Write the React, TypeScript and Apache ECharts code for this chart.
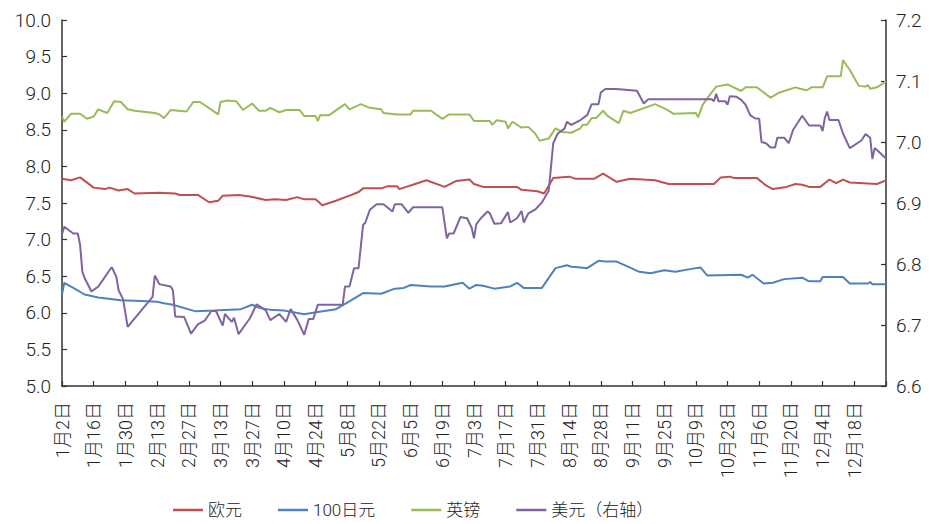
import React, { useEffect, useRef } from "react";
import * as echarts from "echarts";

// Day index counted from 2019-01-02 (0) to 2020-01-01 (364)
const startDate = [2019, 0, 2];
const dayCount = 365;

const seriesNames = ["欧元", "100日元", "英镑", "美元（右轴）"];
const seriesColors = ["#C0504D", "#4F81BD", "#9BBB59", "#8064A2"];

// [dayIndex, value]
const eur: [number, number][] = [
  [0, 7.83], [4, 7.81], [8, 7.85], [14, 7.71], [19, 7.69], [21, 7.71], [25, 7.67], [29, 7.69],
  [32, 7.63], [43, 7.64], [50, 7.63], [52, 7.61], [60, 7.61], [65, 7.51], [69, 7.53], [71, 7.6],
  [78, 7.61], [83, 7.59], [90, 7.54], [94, 7.55], [99, 7.54], [104, 7.58], [107, 7.55], [112, 7.55],
  [115, 7.47], [121, 7.53], [127, 7.6], [131, 7.65], [133, 7.7], [141, 7.7], [144, 7.73], [148, 7.73],
  [149, 7.69], [157, 7.77], [161, 7.81], [169, 7.72], [174, 7.8], [180, 7.82], [182, 7.76], [186, 7.72],
  [201, 7.72], [203, 7.68], [210, 7.66], [213, 7.63], [217, 7.84], [224, 7.86], [227, 7.83], [235, 7.83],
  [239, 7.9], [245, 7.79], [251, 7.83], [262, 7.81], [268, 7.76], [288, 7.76], [291, 7.85], [295, 7.86],
  [297, 7.84], [307, 7.84], [311, 7.74], [314, 7.69], [320, 7.72], [324, 7.76], [327, 7.75], [330, 7.72],
  [335, 7.72], [339, 7.82], [342, 7.77], [345, 7.82], [348, 7.78], [360, 7.76], [364, 7.81],
];

const jpy: [number, number][] = [
  [0, 6.25], [1, 6.41], [5, 6.34], [10, 6.25], [16, 6.21], [26, 6.17], [35, 6.16], [42, 6.15],
  [45, 6.13], [49, 6.11], [59, 6.02], [67, 6.03], [79, 6.05], [84, 6.11], [87, 6.07], [92, 6.04],
  [98, 6.03], [107, 5.98], [113, 6.01], [121, 6.05], [126, 6.14], [133, 6.27], [141, 6.26], [147, 6.33],
  [151, 6.34], [154, 6.38], [163, 6.36], [169, 6.36], [177, 6.41], [180, 6.33], [183, 6.38], [186, 6.37],
  [191, 6.33], [198, 6.36], [201, 6.41], [204, 6.34], [212, 6.34], [218, 6.61], [223, 6.65], [225, 6.63],
  [229, 6.62], [232, 6.61], [237, 6.71], [240, 6.7], [245, 6.7], [250, 6.63], [255, 6.56], [260, 6.54],
  [266, 6.58], [271, 6.56], [278, 6.6], [282, 6.62], [285, 6.51], [300, 6.52], [303, 6.48], [305, 6.52],
  [310, 6.4], [314, 6.41], [319, 6.46], [327, 6.48], [330, 6.43], [335, 6.43], [336, 6.49], [345, 6.49],
  [348, 6.4], [356, 6.4], [357, 6.42], [358, 6.39], [364, 6.39],
];

const gbp: [number, number][] = [
  [0, 8.68], [1, 8.61], [4, 8.72], [8, 8.72], [11, 8.65], [14, 8.68], [16, 8.78], [20, 8.73],
  [23, 8.89], [26, 8.88], [29, 8.78], [32, 8.76], [41, 8.73], [43, 8.71], [45, 8.66], [48, 8.77],
  [55, 8.75], [58, 8.88], [61, 8.88], [69, 8.71], [70, 8.88], [73, 8.9], [77, 8.89], [80, 8.77],
  [84, 8.86], [87, 8.76], [90, 8.76], [92, 8.8], [96, 8.74], [99, 8.77], [105, 8.77], [107, 8.69],
  [112, 8.69], [113, 8.62], [114, 8.7], [118, 8.7], [125, 8.85], [127, 8.78], [132, 8.85], [136, 8.8],
  [141, 8.78], [142, 8.73], [148, 8.71], [154, 8.71], [155, 8.76], [163, 8.76], [168, 8.65], [171, 8.71],
  [180, 8.71], [182, 8.62], [189, 8.62], [190, 8.57], [192, 8.63], [196, 8.61], [197, 8.52], [199, 8.61],
  [203, 8.53], [206, 8.54], [209, 8.45], [211, 8.35], [215, 8.38], [218, 8.52], [221, 8.47], [225, 8.46],
  [229, 8.52], [230, 8.57], [232, 8.57], [234, 8.66], [236, 8.66], [239, 8.76], [241, 8.69], [243, 8.65],
  [246, 8.59], [248, 8.76], [251, 8.73], [262, 8.85], [267, 8.78], [270, 8.72], [280, 8.73], [281, 8.67],
  [283, 8.84], [286, 8.97], [289, 9.09], [294, 9.12], [300, 9.03], [302, 9.08], [307, 9.08], [313, 8.94],
  [317, 9.01], [324, 9.08], [326, 9.06], [329, 9.04], [331, 9.08], [336, 9.08], [338, 9.23], [344, 9.23],
  [345, 9.45], [348, 9.32], [352, 9.1], [355, 9.09], [356, 9.11], [357, 9.06], [360, 9.08], [364, 9.16],
];

const usd: [number, number][] = [
  [0, 6.849], [1, 6.861], [5, 6.85], [7, 6.85], [8, 6.831], [9, 6.787], [10, 6.777], [13, 6.755],
  [16, 6.763], [22, 6.795], [24, 6.779], [25, 6.757], [27, 6.742], [29, 6.697], [40, 6.746], [41, 6.781],
  [43, 6.767], [48, 6.763], [49, 6.757], [50, 6.714], [54, 6.713], [57, 6.686], [60, 6.701], [63, 6.707],
  [66, 6.723], [68, 6.723], [71, 6.699], [72, 6.718], [75, 6.705], [76, 6.712], [78, 6.685], [83, 6.711],
  [86, 6.734], [90, 6.724], [92, 6.708], [96, 6.718], [99, 6.705], [101, 6.726], [104, 6.708], [107, 6.684],
  [109, 6.71], [111, 6.71], [113, 6.733], [124, 6.733], [125, 6.763], [127, 6.763], [129, 6.793], [131, 6.793],
  [133, 6.864], [134, 6.868], [136, 6.889], [139, 6.898], [142, 6.898], [146, 6.886], [147, 6.898], [150, 6.898],
  [153, 6.884], [155, 6.893], [168, 6.893], [170, 6.842], [171, 6.85], [173, 6.85], [176, 6.877], [179, 6.875],
  [181, 6.859], [182, 6.842], [183, 6.865], [185, 6.875], [188, 6.886], [189, 6.883], [191, 6.866], [194, 6.867],
  [197, 6.885], [198, 6.868], [201, 6.875], [203, 6.887], [204, 6.868], [206, 6.883], [209, 6.889], [212, 6.901],
  [215, 6.92], [217, 6.998], [219, 7.014], [222, 7.022], [223, 7.033], [225, 7.028], [229, 7.036], [232, 7.044],
  [234, 7.062], [237, 7.062], [238, 7.081], [240, 7.087], [245, 7.087], [254, 7.084], [257, 7.063], [259, 7.07],
  [287, 7.07], [288, 7.067], [289, 7.079], [290, 7.067], [293, 7.067], [294, 7.061], [295, 7.075], [298, 7.074],
  [300, 7.069], [302, 7.061], [304, 7.044], [306, 7.039], [308, 7.038], [309, 7.0], [311, 6.998], [313, 6.991],
  [315, 6.991], [316, 7.007], [319, 7.007], [321, 6.998], [323, 7.02], [327, 7.043], [330, 7.027], [335, 7.027],
  [336, 7.018], [337, 7.04], [338, 7.05], [339, 7.036], [343, 7.036], [345, 7.014], [348, 6.99], [353, 7.002],
  [355, 7.013], [357, 7.007], [358, 6.972], [359, 6.99], [360, 6.987], [364, 6.973],
];

const leftAxis = { min: 5, max: 10, interval: 0.5 };
const rightAxis = { min: 6.6, max: 7.2, interval: 0.1 };
const labelStep = 14;

function buildCategories(): string[] {
  const out: string[] = [];
  const base = Date.UTC(startDate[0], startDate[1], startDate[2]);
  for (let i = 0; i < dayCount; i++) {
    const d = new Date(base + i * 86400000);
    out.push(`${d.getUTCMonth() + 1}月${d.getUTCDate()}日`);
  }
  return out;
}

export default function App() {
  const ref = useRef<HTMLDivElement>(null);
  useEffect(() => {
    document.body.style.margin = "0";
    if (!ref.current) return;
    const chart = echarts.init(ref.current, null, { renderer: "svg" });
    const categories = buildCategories();
    const font = "Roboto, 'Liberation Sans', 'Noto Sans CJK SC', sans-serif";
    const axisColor = "#333";
    const textColor = "#222";
    const datasets = [eur, jpy, gbp, usd];
    chart.setOption({
      animation: false,
      grid: { left: 62, right: 43, top: 20, bottom: 138, containLabel: false },
      legend: {
        left: 173,
        top: 499,
        padding: 0,
        icon: "rect",
        itemWidth: 30,
        itemHeight: 2.5,
        itemGap: 36,
        textStyle: { fontSize: 17, lineHeight: 22, color: textColor, fontFamily: font, fontWeight: 300 },
        data: seriesNames,
      },
      xAxis: {
        type: "category",
        data: categories,
        boundaryGap: false,
        axisLine: { lineStyle: { color: axisColor, width: 1.5 } },
        axisTick: {
          inside: true,
          length: 5,
          interval: (i: number) => i % labelStep === 0,
          lineStyle: { color: axisColor, width: 1.2 },
        },
        axisLabel: {
          interval: (i: number) => i % labelStep === 0 && i < dayCount - 1,
          rotate: 90,
          margin: 16,
          fontSize: 18,
          color: textColor,
          fontFamily: font,
          fontWeight: 300,
        },
        splitLine: { show: false },
      },
      yAxis: [
        {
          type: "value",
          ...leftAxis,
          position: "left",
          axisLine: { show: true, lineStyle: { color: axisColor, width: 1.5 } },
          axisTick: { show: true, inside: true, length: 5, lineStyle: { color: axisColor, width: 1.2 } },
          axisLabel: {
            formatter: (v: number) => v.toFixed(1),
            fontSize: 19,
            margin: 11,
            color: textColor,
            fontFamily: font,
            fontWeight: 300,
          },
          splitLine: { show: false },
        },
        {
          type: "value",
          ...rightAxis,
          position: "right",
          axisLine: { show: true, lineStyle: { color: axisColor, width: 1.5 } },
          axisTick: { show: true, inside: true, length: 5, lineStyle: { color: axisColor, width: 1.2 } },
          axisLabel: {
            formatter: (v: number) => v.toFixed(1),
            fontSize: 19,
            margin: 10,
            color: textColor,
            fontFamily: font,
            fontWeight: 300,
          },
          splitLine: { show: false },
        },
      ],
      series: datasets.map((d, i) => ({
        name: seriesNames[i],
        type: "line",
        yAxisIndex: i === 3 ? 1 : 0,
        data: d,
        symbol: "none",
        lineStyle: { color: seriesColors[i], width: 2 },
        itemStyle: { color: seriesColors[i] },
      })),
    });
    return () => chart.dispose();
  }, []);
  return <div ref={ref} style={{ width: 929, height: 524 }} />;
}
